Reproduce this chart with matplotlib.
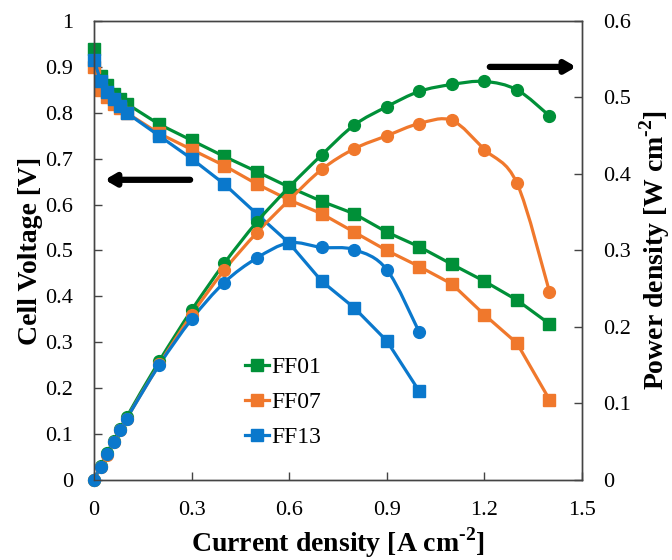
import numpy as np
import matplotlib
matplotlib.use("Agg")
import matplotlib.pyplot as plt
from matplotlib.path import Path
from matplotlib.patches import PathPatch

plt.rcParams['font.family'] = ['Liberation Serif', 'DejaVu Serif']
plt.rcParams['mathtext.fontset'] = 'custom'
plt.rcParams['mathtext.rm'] = 'Liberation Serif'
plt.rcParams['mathtext.bf'] = 'Liberation Serif:bold'

# current density [A cm-2]
current = [0, 0.02, 0.04, 0.06, 0.08, 0.1, 0.2, 0.3, 0.4, 0.5, 0.6, 0.7,
           0.8, 0.9, 1.0, 1.1, 1.2, 1.3, 1.4]

# cell voltage [V]
v_ff01 = [0.94, 0.88, 0.86, 0.84, 0.83, 0.82, 0.775, 0.74, 0.705, 0.672, 0.638,
          0.607, 0.58, 0.54, 0.508, 0.47, 0.433, 0.392, 0.34]
v_ff07 = [0.90, 0.85, 0.835, 0.82, 0.81, 0.80, 0.755, 0.72, 0.685, 0.645, 0.61,
          0.58, 0.54, 0.50, 0.465, 0.427, 0.36, 0.298, 0.175]
v_ff13 = [0.915, 0.87, 0.845, 0.83, 0.815, 0.80, 0.75, 0.70, 0.645, 0.58, 0.516,
          0.433, 0.375, 0.303, 0.193]

# power density [W cm-2]
p_ff01 = [0, 0.018, 0.035, 0.051, 0.066, 0.082, 0.155, 0.222, 0.283, 0.337, 0.383,
          0.425, 0.464, 0.488, 0.508, 0.517, 0.521, 0.510, 0.476]
p_ff07 = [0, 0.017, 0.033, 0.049, 0.065, 0.080, 0.151, 0.216, 0.274, 0.323, 0.366,
          0.406, 0.433, 0.450, 0.466, 0.470, 0.432, 0.388, 0.246]
p_ff13 = [0, 0.0175, 0.034, 0.050, 0.065, 0.080, 0.150, 0.210, 0.258, 0.290, 0.310,
          0.304, 0.301, 0.275, 0.193]

labels = ['FF01', 'FF07', 'FF13']
colors = ['#009038', '#F0782C', '#0A78CC']


def smooth_path(x, y):
    # Catmull-Rom curve drawn as cubic Bezier segments through the points
    pts = np.column_stack([x, y])
    verts = [pts[0]]
    codes = [Path.MOVETO]
    n = len(pts)
    for i in range(n - 1):
        p0 = pts[max(i - 1, 0)]
        p1 = pts[i]
        p2 = pts[i + 1]
        p3 = pts[min(i + 2, n - 1)]
        c1 = p1 + (p2 - p0) / 6.0
        c2 = p2 - (p3 - p1) / 6.0
        verts += [c1, c2, p2]
        codes += [Path.CURVE4] * 3
    return Path(verts, codes)


fig = plt.figure(figsize=(6.72, 5.6), dpi=100)
ax = fig.add_axes([0.1399, 0.1429, 0.7262, 0.8196])
ax2 = ax.twinx()

volts = [v_ff01, v_ff07, v_ff13]
powers = [p_ff01, p_ff07, p_ff13]

for lab, col, v in zip(labels, colors, volts):
    ax.plot(current[:len(v)], v, color=col, lw=2.3, marker='s', ms=9,
            label=lab, clip_on=False)

for col, p in zip(colors, powers):
    x = current[:len(p)]
    ax2.add_patch(PathPatch(smooth_path(x, p), facecolor='none', edgecolor=col,
                            lw=2.3, clip_on=False))
    ax2.plot(x, p, ls='none', marker='o', ms=8.5, color=col, clip_on=False)

ax.set_xlim(0, 1.5)
ax.set_ylim(0, 1)
ax2.set_ylim(0, 0.6)
ax.set_xticks([0, 0.3, 0.6, 0.9, 1.2, 1.5])
ax.set_xticklabels(['0', '0.3', '0.6', '0.9', '1.2', '1.5'])
ax.set_yticks(np.arange(0, 1.01, 0.1))
ax.set_yticklabels(['0', '0.1', '0.2', '0.3', '0.4', '0.5', '0.6', '0.7',
                    '0.8', '0.9', '1'])
ax2.set_yticks(np.arange(0, 0.61, 0.1))
ax2.set_yticklabels(['0', '0.1', '0.2', '0.3', '0.4', '0.5', '0.6'])

for a in (ax, ax2):
    a.tick_params(direction='in', length=6, width=1, labelsize=16,
                  color='#444444', pad=15)
    for s in a.spines.values():
        s.set_color('#444444')
        s.set_linewidth(1)

ax.set_xlabel('Current density [A cm$^{\\mathbf{\u20102}}$]', fontsize=20,
              fontweight='bold', labelpad=4)
ax.set_ylabel('Cell Voltage [V]', fontsize=20, fontweight='bold', labelpad=2)
ax2.set_ylabel('Power density [W cm$^{\\mathbf{\u20102}}$]', fontsize=20,
               fontweight='bold', labelpad=5)

ax.legend(loc='upper left', bbox_to_anchor=(0.29, 0.29), frameon=False,
          fontsize=17, handlelength=1.0, handletextpad=0.1, labelspacing=0.58,
          borderaxespad=0)

arrow = dict(arrowstyle='-|>,head_length=0.6,head_width=0.35', lw=4.5,
             color='black', shrinkA=0, shrinkB=0)
ax.annotate('', xy=(0.022, 0.654), xytext=(0.197, 0.654),
            xycoords='axes fraction', arrowprops=arrow)
ax.annotate('', xy=(0.988, 0.90), xytext=(0.811, 0.90),
            xycoords='axes fraction', arrowprops=arrow)

fig.savefig('out.png', dpi=100)
